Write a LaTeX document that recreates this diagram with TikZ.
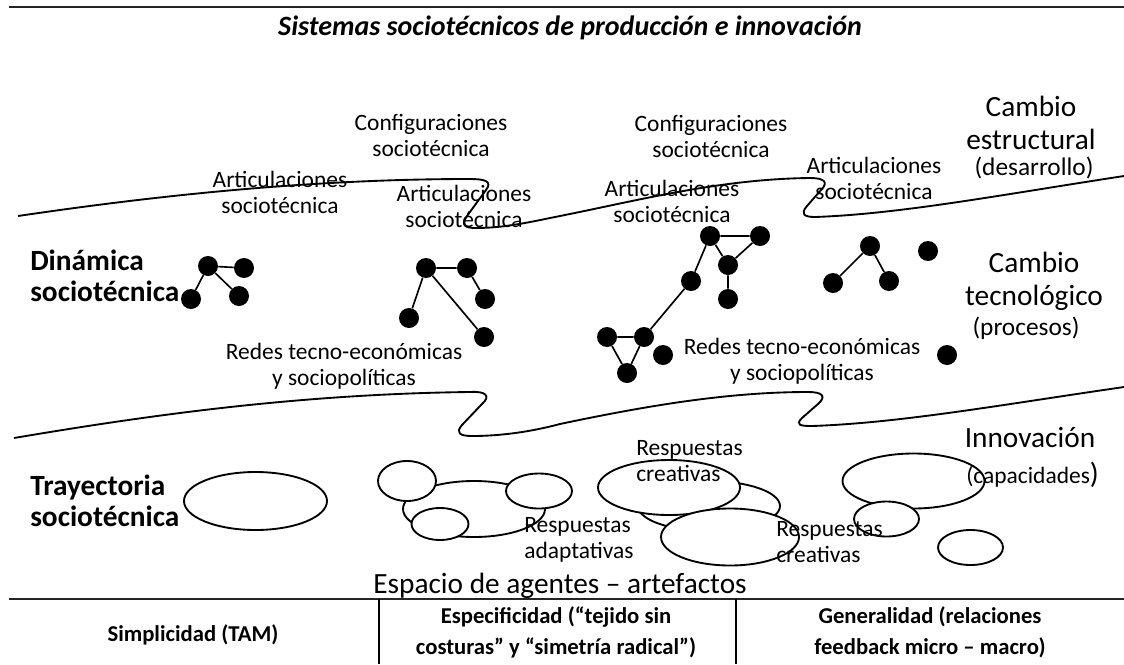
\documentclass[tikz,border=0pt]{standalone}
\usepackage{fontspec}
\setmainfont{Carlito}
\usetikzlibrary{shapes.geometric}
\begin{document}
\begin{tikzpicture}[x=0.75pt,y=-0.75pt,
  lbl/.style={align=center,inner sep=0pt,font=\fontsize{17.6}{19.5}\selectfont},
  big/.style={align=center,inner sep=0pt,font=\fontsize{22}{24.75}\selectfont},
  paren/.style={inner sep=0pt,anchor=base,font=\fontsize{19}{22}\selectfont},
  side/.style={align=left,inner sep=0pt,anchor=west,font=\fontsize{22}{23.25}\selectfont\bfseries},
  cell/.style={align=center,inner sep=0pt,font=\fontsize{17}{23.25}\selectfont\bfseries},
  dot/.style={circle,fill=black,inner sep=0pt,minimum size=15pt},
  edge/.style={line width=1.25pt},
  wave/.style={line width=1.4pt},
  blob/.style={ellipse,draw,line width=1.4pt,fill=white,inner sep=0pt},
  esz/.style 2 args={minimum width=#1*1.5pt,minimum height=#2*1.5pt},
  rule/.style={line width=1.5pt,draw=black!85},
  thin/.style={line width=0.8pt}
]
\useasboundingbox (0,0) rectangle (1124,664);

% rules
\coordinate (r1a) at (9,7);   \coordinate (r1b) at (1124,7);
\coordinate (r2a) at (9,599); \coordinate (r2b) at (1124,599);
\coordinate (v1a) at (379,599); \coordinate (v1b) at (379,664);
\coordinate (v2a) at (736,599); \coordinate (v2b) at (736,664);
\draw[rule] (r1a) -- (r1b);
\draw[rule] (r2a) -- (r2b);
\draw[thin] (v1a) -- (v1b);
\draw[thin] (v2a) -- (v2b);

% title
\node[font=\fontsize{21}{25}\selectfont\bfseries\itshape,anchor=base,inner sep=0pt] (title) at (570,35)
  {Sistemas sociotécnicos de producción e innovación};

% wavy boundaries
\draw[wave] (18,216) .. controls (140,198) and (300,179) .. (470,179)
  .. controls (484,179) and (493,181) .. (486,190)
  -- (467,216)
  .. controls (461,225) and (464,228) .. (476,228)
  .. controls (505,228) and (530,222) .. (560,216)
  .. controls (640,200) and (720,179) .. (810,178)
  .. controls (824,178) and (829,182) .. (821,190)
  -- (807,206)
  .. controls (800,214) and (804,217) .. (815,217)
  .. controls (900,214) and (1000,195) .. (1124,176);
\draw[wave] (14,438) .. controls (150,415) and (300,394) .. (470,392)
  .. controls (486,391) and (491,396) .. (482,404)
  -- (462,425)
  .. controls (455,433) and (460,436) .. (472,436)
  .. controls (500,436) and (530,432) .. (560,424)
  .. controls (650,405) and (730,392) .. (808,392)
  .. controls (822,392) and (827,396) .. (818,404)
  -- (802,418)
  .. controls (795,425) and (800,426) .. (812,426)
  .. controls (900,423) and (1000,405) .. (1124,387);

% networks
\node[dot] (a) at (208,266) {};
\node[dot] (b) at (244,268) {};
\node[dot] (c) at (191,299) {};
\node[dot] (d) at (239,296) {};
\draw[edge] (a) -- (b) (a) -- (c) (a) -- (d);

\node[dot] (e) at (426,268) {};
\node[dot] (f) at (467,268) {};
\node[dot] (g) at (485,299) {};
\node[dot] (h) at (409,318) {};
\node[dot] (i) at (484,337) {};
\draw[edge] (e) -- (f) (f) -- (g) (e) -- (h) (e) -- (i);

\node[dot] (j) at (710,236) {};
\node[dot] (k) at (760,236) {};
\node[dot] (l) at (728,265) {};
\node[dot] (m) at (728,299) {};
\node[dot] (n) at (691,281) {};
\node[dot] (o) at (607,337) {};
\node[dot] (p) at (644,337) {};
\node[dot] (q) at (663,355) {};
\node[dot] (r) at (627,373) {};
\draw[edge] (j) -- (k) (j) -- (l) (k) -- (l) (l) -- (m) (j) -- (n) (n) -- (p)
  (o) -- (p) (o) -- (r) (p) -- (r);

\node[dot] (s) at (870,246) {};
\node[dot] (t) at (833,283) {};
\node[dot] (u) at (889,281) {};
\node[dot] (v) at (928,251) {};
\node[dot] (w) at (947,355) {};
\draw[edge] (s) -- (t) (s) -- (u);

% ellipses
\node[blob,esz={71.5}{29}] (e1) at (255.5,501) {};
\node[blob,esz={71}{28}] (ebig) at (474,509) {};
\node[blob,esz={29}{20}] (ea) at (407,481) {};
\node[blob,esz={33}{17.5}] (eb) at (539,491) {};
\node[blob,esz={28.5}{16}] (ec) at (440,524) {};
\node[blob,esz={71}{25}] (ee) at (709,506) {};
\node[blob,esz={71}{27.5}] (ed) at (669,487.5) {};
\node[blob,esz={69}{28.5}] (ef) at (730,537) {};
\node[blob,esz={71}{27.5}] (eh) at (913.5,481) {};
\node[blob,esz={32.5}{17.5}] (eg) at (886.5,519) {};
\node[blob,esz={32.5}{17.5}] (ei) at (970.5,547.5) {};

% labels
\node[lbl] (conf1) at (431,135) {Configuraciones\\sociotécnica};
\node[lbl] (art1) at (280,192) {Articulaciones\\sociotécnica};
\node[lbl] (art2) at (464,206) {Articulaciones\\sociotécnica};
\node[lbl] (conf2) at (711,136.5) {Configuraciones\\sociotécnica};
\node[lbl] (art3) at (672,201) {Articulaciones\\sociotécnica};
\node[lbl] (art4) at (874,178.5) {Articulaciones\\sociotécnica};
\node[lbl] (redes1) at (344,366) {Redes tecno-económicas\\y sociopolíticas};
\node[lbl] (redes2) at (802,361.5) {Redes tecno-económicas\\y sociopolíticas};
\node[lbl,align=left,anchor=west] (resp1) at (636,461) {Respuestas\\creativas};
\node[lbl,align=left,anchor=west] (resp2) at (524,539.5) {Respuestas\\adaptativas};
\node[lbl,align=left,anchor=west] (resp3) at (776,542.5) {Respuestas\\creativas};

\node[big] (camb1) at (1031,122.5) {Cambio\\estructural};
\node[paren] (desa) at (1034,175) {(desarrollo)};
\node[big] (camb2) at (1034,281.5) {Cambio\\tecnológico};
\node[paren] (proc) at (1026,335) {(procesos)};
\node[big,anchor=base] (innov) at (1030,447) {Innovación};
\node[inner sep=0pt,anchor=base west] (capa) at (966,483)
  {\fontsize{17.6}{20}\selectfont(capacidades\fontsize{22}{24}\selectfont)};

\node[side] (din) at (30,275.5) {Dinámica\\sociotécnica};
\node[side] (tray) at (30,500.5) {Trayectoria\\sociotécnica};

\node[inner sep=0pt,anchor=base,font=\fontsize{22}{24}\selectfont] (esp) at (560,593)
  {Espacio de agentes – artefactos};

% table
\node[cell,anchor=base] (c1) at (193,641) {Simplicidad (TAM)};
\node[cell] (c2) at (556,632.5) {Especificidad (“tejido sin\\costuras” y “simetría radical”)};
\node[cell] (c3) at (930,632.5) {Generalidad (relaciones\\feedback micro – macro)};
\end{tikzpicture}
\end{document}
